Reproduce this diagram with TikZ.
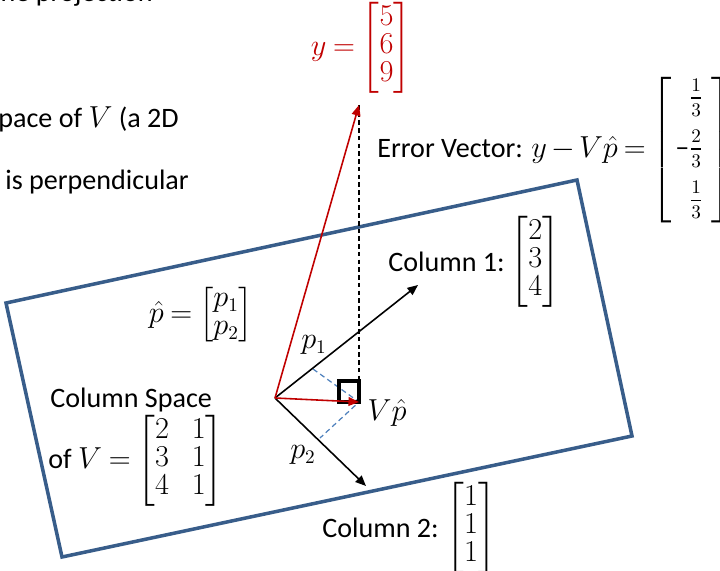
\documentclass[tikz,border=0pt]{standalone}
\usepackage{amsmath}
\usepackage[no-math]{fontspec}
\setmainfont{Carlito}
\usetikzlibrary{arrows.meta,positioning}
\definecolor{slate}{RGB}{56,93,138}
\definecolor{sky}{RGB}{79,129,189}
\definecolor{crimson}{RGB}{192,0,0}
\everymath{\thickmuskip=4mu\relax\medmuskip=3mu\relax}
\newcommand\thr[1]{\tfrac{\mathstrut #1}{\mathstrut 3}}
\tikzset{
  >={Triangle[length=6pt,width=5pt]},
  txt/.style={inner sep=0pt,font=\fontsize{16}{16}\selectfont},
  vec/.style={->,line width=0.9pt,draw=#1},
  vec/.default=black,
  plane/.style={draw=slate,line width=2pt,line join=miter},
  drop/.style={draw=black,line width=0.9pt,dash pattern=on 2.6pt off 1.8pt},
  foot/.style={draw=sky,line width=0.7pt,dash pattern=on 3pt off 2pt},
  corner/.style={draw=black,line width=1.8pt},
}

\begin{document}
\begin{tikzpicture}[x=0.02cm,y=-0.02cm]
  \useasboundingbox (0,0) rectangle (720,571);
  \clip (0,0) rectangle (720,571);
  % slide text cut by the frame
  \node[txt,anchor=base east] (top) at (153,2) {the projection};
  \node[txt,anchor=base west] (sp) at (-2,128) {pace of $V$ (a 2D};
  \node[txt,anchor=base west] (perp) at (5,189) {is perpendicular};

  \draw[plane] (6,303) -- (577,180) -- (632,436) -- (62,557) -- cycle;

  \coordinate (O) at (275,398);
  \coordinate (c1) at (418,285);
  \coordinate (c2) at (366,486);
  \coordinate (y) at (359,105);
  \coordinate (vp) at (359,402);
  \coordinate (sq) at (359,381);
  \coordinate (f1) at (313,369);
  \coordinate (f2) at (320,438);

  \draw[foot] (f1) -- (vp) -- (f2);
  \draw[drop] (y) -- (sq);
  \draw[corner] (vp) rectangle (339,381);
  \draw[vec] (O) -- (c1);
  \draw[vec] (O) -- (c2);
  \draw[vec=crimson] (O) -- (y);
  \draw[vec=crimson] (O) -- (vp);

  \node[txt] (p1) at (314,345) {$p_1$};
  \node[txt] (p2) at (303,455) {$p_2$};
  \node[txt] (vph) at (387,413) {$V\hat{p}$};

  \node[txt,text=crimson] (yv) at (361,48) {$y=\begin{bmatrix}5\\6\\9\end{bmatrix}$};
  \node[txt,anchor=west] (err) at (377,150) {Error Vector: $\thickmuskip=3.5mu\relax\medmuskip=2.5mu\relax y-V\hat{p}=\left[\begin{array}{@{\hspace{2pt}}r@{\hspace{5pt}}}\thr{1}\\[8pt]\text{\textendash}\thr{2}\\[8pt]\thr{1}\end{array}\right]$};

  \node[txt,anchor=west] (col1) at (388,262) {Column 1:};
  \node[txt,right=3pt of col1] (m1) {$\begin{bmatrix}2\\3\\4\end{bmatrix}$};
  \node[txt,anchor=west] (col2) at (322,528) {Column 2:};
  \node[txt,right=4pt of col2] (m2) {$\begin{bmatrix}1\\1\\1\end{bmatrix}$};

  \node[txt] (phat) at (201,315) {$\hat{p}=\begin{bmatrix}p_1\\p_2\end{bmatrix}$};
  \node[txt,anchor=west] (cs) at (50,400) {Column Space};
  \node[txt,anchor=west] (ofv) at (48,461) {of $V=\arraycolsep=6.5pt\begin{bmatrix}2&1\\3&1\\4&1\end{bmatrix}$};
\end{tikzpicture}
\end{document}
